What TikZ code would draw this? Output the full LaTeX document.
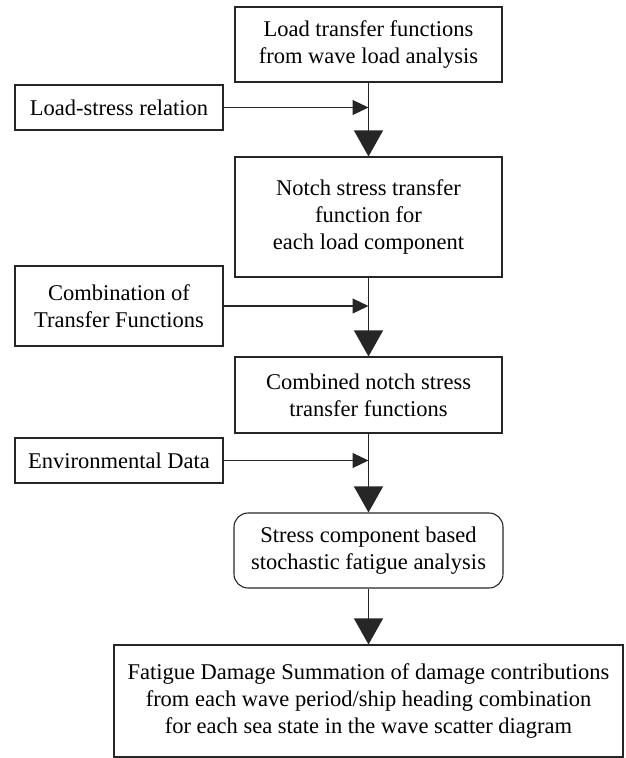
\documentclass[tikz,border=0pt]{standalone}
\usepackage{fontspec}
\setmainfont{Liberation Serif}
\usetikzlibrary{arrows.meta}
\begin{document}
\begin{tikzpicture}[x=1pt,y=-1pt,
  box/.style={draw=black!85, line width=1.1pt, rectangle, inner sep=0pt, align=center,
    font=\fontsize{22.5}{27}\selectfont},
  rbox/.style={box, rounded corners=14pt},
  flow/.style={line width=1.1pt, draw=black!85, -{Triangle[width=29pt,length=26pt]}},
  side/.style={line width=1.1pt, draw=black!85, -{Triangle[width=15pt,length=16pt]}}]
\useasboundingbox (0,0) rectangle (626,758);
\clip (0,0) rectangle (626,758);
\node[box, minimum width=267pt, minimum height=75pt] (b1) at (368.5,44.5) {Load transfer functions\\from wave load analysis};
\node[box, minimum width=208pt, minimum height=45pt] (ls) at (119,107.5) {Load-stress relation};
\node[box, minimum width=267pt, minimum height=120pt] (b2) at (368.5,217) {Notch stress transfer\\function for\\each load component};
\node[box, minimum width=208pt, minimum height=80pt] (comb) at (119,306) {Combination of\\Transfer Functions};
\node[box, minimum width=267pt, minimum height=76pt] (b3) at (368.5,395) {Combined notch stress\\transfer functions};
\node[box, minimum width=208pt, minimum height=45pt] (env) at (119,460.5) {Environmental Data};
\node[rbox, minimum width=269pt, minimum height=75pt] (b4) at (368.5,550.5) {Stress component based\\stochastic fatigue analysis};
\node[box, minimum width=509pt, minimum height=112pt] (b5) at (368.5,701) {\raisebox{-6pt}{\begin{tabular}{@{}c@{}}Fatigue Damage Summation of damage contributions\\from each wave period/ship heading combination\\for each sea state in the wave scatter diagram\end{tabular}}};
\draw[flow] (b1.south) -- (b2.north);
\draw[flow] (b2.south) -- (b3.north);
\draw[flow] (b3.south) -- (b4.north);
\draw[flow] (b4.south) -- (b5.north);
\draw[side] (ls.east) -- (ls.east -| b1.south);
\draw[side] (comb.east) -- (comb.east -| b2.south);
\draw[side] (env.east) -- (env.east -| b3.south);
\end{tikzpicture}
\end{document}
